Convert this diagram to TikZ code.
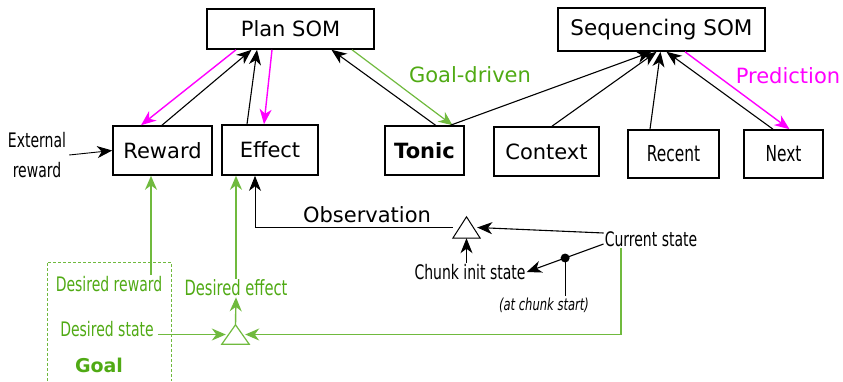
\documentclass[tikz,border=0pt]{standalone}
\usepackage{fontspec}
\setmainfont{DejaVu Sans}
\newfontfamily\condf[FakeStretch=0.7]{DejaVu Sans}
\usetikzlibrary{arrows.meta,calc}
\definecolor{gtext}{RGB}{80,170,20}
\definecolor{gline}{RGB}{112,186,62}
\definecolor{mag}{RGB}{255,0,255}
\begin{document}
\begin{tikzpicture}[x=1pt,y=-1pt,
  box/.style={draw, line width=1.6pt, inner sep=0pt, font=\fontsize{21}{25}\selectfont},
  lbl/.style={inner sep=1pt, font=\fontsize{21}{25}\selectfont},
  clbl/.style={inner sep=1pt, font=\condf\fontsize{20}{24}\selectfont},
  barrow/.style={-{Stealth[length=15pt,width=12pt,inset=4.5pt]}, line width=1.1pt},
  marrow/.style={-{Stealth[length=15pt,width=12pt,inset=4.5pt]}, mag, line width=1.4pt},
  garrow/.style={-{Stealth[length=14pt,width=12pt,inset=4.5pt]}, gline, line width=1.4pt},
]
\useasboundingbox (0,0) rectangle (843,381);

% boxes
\node[box, minimum width=167pt, minimum height=40pt] (plan) at (290.5,29) {Plan SOM};
\node[box, minimum width=207pt, minimum height=43pt, font=\fontsize{21.5}{25}\selectfont] (seq) at (661.5,29.5) {Sequencing SOM};
\node[box, minimum width=99pt, minimum height=49pt] (reward) at (162.5,150.5) {Reward};
\node[box, minimum width=96pt, minimum height=50pt] (effect) at (270,150) {Effect};
\node[box, minimum width=79pt, minimum height=49pt, font=\bfseries\fontsize{21}{25}\selectfont] (tonic) at (424.5,150.5) {Tonic};
\node[box, minimum width=105pt, minimum height=49pt] (context) at (546.5,151.5) {Context};
\node[box, minimum width=91pt, minimum height=48pt, font=\condf\fontsize{22}{26}\selectfont] (recent) at (673.5,154) {Recent};
\node[box, minimum width=79pt, minimum height=48pt, font=\condf\fontsize{22}{26}\selectfont] (next) at (783.5,154) {Next};

% labels
\node[clbl, align=center, font=\condf\fontsize{20}{30}\selectfont] (ext) at (37,155) {External\\reward};
\node[lbl, text=gtext] (goaldriven) at (470,75) {Goal-driven};
\node[lbl, text=mag] (prediction) at (788,76) {Prediction};
\node[lbl] (obs) at (367,215) {Observation};
\node[clbl, text=gtext] (dreward) at (109,284) {Desired reward};
\node[clbl, text=gtext] (dstate) at (107,329) {Desired state};
\node[clbl, text=gtext, font=\condf\fontsize{21}{25}\selectfont] (deffect) at (236,288) {Desired effect};
\node[inner sep=1pt, text=gtext, font=\bfseries\fontsize{19}{23}\selectfont] (goal) at (99,365) {Goal};
\node[clbl] (curstate) at (651,239) {Current state};
\node[clbl] (chunk) at (470,272) {Chunk init state};
\node[inner sep=1pt, font=\condf\itshape\fontsize{16.5}{20}\selectfont] (atchunk) at (544,305) {(at chunk start)};

% triangles
\node[inner sep=0pt, minimum width=27pt, minimum height=19pt] (gtri) at (235.5,334.5) {};
\draw[gline, line width=1.2pt, line join=miter] (gtri.south west) -- (gtri.south east) -- (gtri.north) -- cycle;
\node[inner sep=0pt, minimum width=27pt, minimum height=21pt] (btri) at (466.5,227.5) {};
\draw[line width=1pt] (btri.south west) -- (btri.south east) -- (btri.north) -- cycle;

% goal dashed box
\draw[gline, line width=0.9pt, dash pattern=on 3pt off 2pt] (47,381) |- (171,262) -- (171,381);

% top arrows
\draw[barrow, line width=0.9pt] ([xshift=2pt]ext.east) -- (reward.west);
\draw[marrow] ([xshift=-54.5pt]plan.south) -- ([xshift=-21.5pt]reward.north);
\draw[barrow] ([xshift=-0.5pt]reward.north) -- ([xshift=-39pt]plan.south);
\draw[barrow] ([xshift=-23pt]effect.north) -- ([xshift=-33.5pt]plan.south);
\draw[marrow] ([xshift=-18.5pt]plan.south) -- ([xshift=-6pt]effect.north);
\draw[barrow] ([xshift=11pt]tonic.north) -- ([xshift=41pt]plan.south);
\draw[garrow, line width=1.2pt] ([xshift=61.5pt]plan.south) -- ([xshift=28pt]tonic.north);
\draw[barrow] ([xshift=26pt]tonic.north) -- ([xshift=-10pt]seq.south);
\draw[barrow] ([xshift=5.5pt]context.north) -- ([xshift=-5pt]seq.south);
\draw[barrow] ([xshift=-23.5pt]recent.north) -- ([xshift=-1pt]seq.south);
\draw[barrow] ([xshift=-10.5pt]next.north) -- ([xshift=5pt]seq.south);
\draw[marrow] ([xshift=23.5pt]seq.south) -- ([xshift=6pt]next.north);

% bottom green arrows
\coordinate (rin) at ([xshift=-11.5pt]reward.south);
\draw[garrow] (rin |- dreward.north) -- (rin);
\coordinate (ein) at ([xshift=-34pt]effect.south);
\draw[garrow] (ein |- deffect.north) -- (ein);
\draw[garrow] (gtri.north) -- (deffect.south);
\coordinate (dsin) at ([xshift=3pt]dstate.east);
\draw[garrow] (dsin |- gtri.west) -- ([xshift=4pt]gtri.west);
\coordinate (cs) at ([xshift=-30pt]curstate.south);
\draw[garrow] (cs) |- ([xshift=-4pt]gtri.east);

% bottom black arrows
\coordinate (oin) at ([xshift=-15pt]effect.south);
\draw[barrow, line width=0.9pt] (btri.west) -| (oin);
\draw[barrow] ([yshift=6pt]curstate.west) -- ([xshift=-3pt]btri.east);
\draw[barrow] (btri.south |- chunk.north) -- (btri.south);
\draw[barrow] ([yshift=-5pt]curstate.west) -- coordinate[pos=0.5] (dot) (chunk.east);
\fill (dot) circle (4.5pt);
\draw[line width=1.1pt] (dot) -- (dot |- atchunk.north);
\end{tikzpicture}
\end{document}
